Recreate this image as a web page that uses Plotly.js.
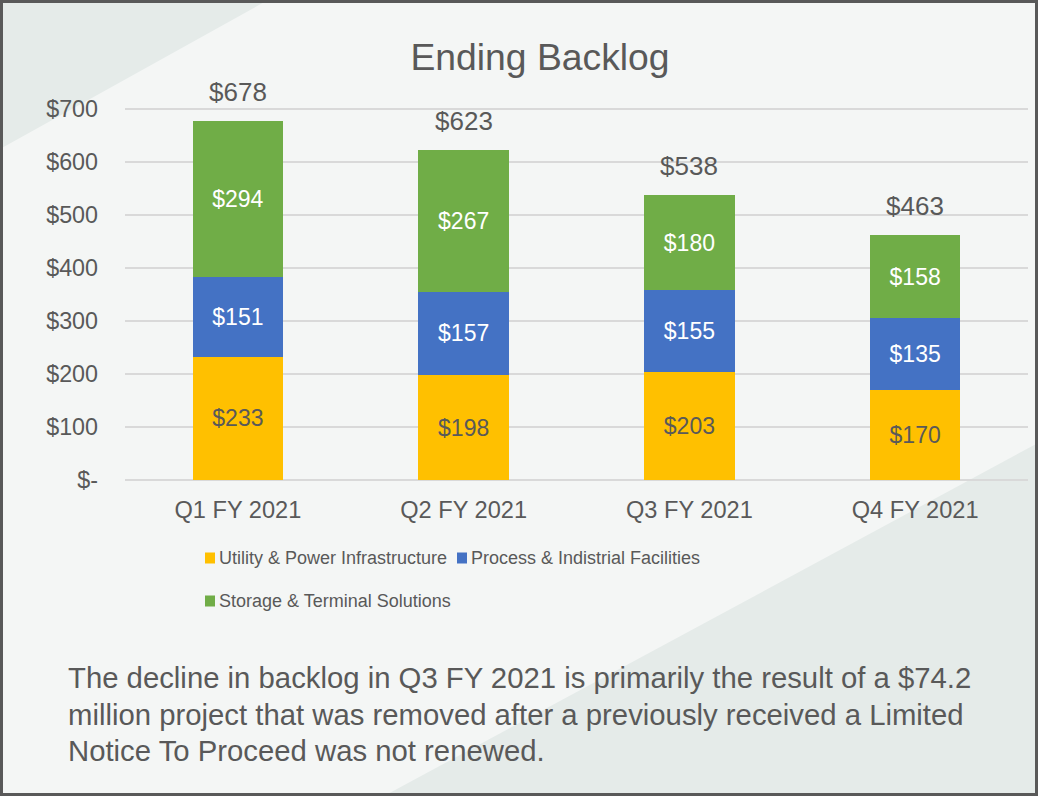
<!DOCTYPE html>
<html>
<head>
<meta charset="utf-8">
<script src="https://cdn.plot.ly/plotly-3.0.1.min.js"></script>
<style>html,body{margin:0;padding:0;background:#F4F6F5;}#chart{width:1038px;height:796px;}</style>
</head>
<body>
<div id="chart"></div>
<script>
// ---- data ----
const categories = ['Q1 FY 2021', 'Q2 FY 2021', 'Q3 FY 2021', 'Q4 FY 2021'];
const utilityPower = [233, 198, 203, 170];
const processIndustrial = [151, 157, 155, 135];
const storageTerminal = [294, 267, 180, 158];
const totals = [678, 623, 538, 463];
const seriesNames = ['Utility & Power Infrastructure', 'Process & Indistrial Facilities', 'Storage & Terminal Solutions'];
const yTickVals = [0, 100, 200, 300, 400, 500, 600, 700];
const yTickText = ['$-', '$100', '$200', '$300', '$400', '$500', '$600', '$700'];
const chartTitle = 'Ending Backlog';
const noteLines = [
  'The decline in backlog in Q3 FY 2021 is primarily the result of a $74.2',
  'million project that was removed after a previously received a Limited',
  'Notice To Proceed was not renewed.'
];

// ---- styles ----
const W = 1038, H = 796;
const M = {l: 125, r: 10, t: 108, b: 316};
const plotW = W - M.l - M.r, plotH = H - M.t - M.b;
const px2x = p => (p - M.l) / plotW;
const py2y = p => (H - M.b - p) / plotH;
const FONT = 'Liberation Sans, Arial, sans-serif';
const GREY = '#595959';
const colors = ['#FFC000', '#4472C4', '#70AD47'];
const labelColors = [GREY, '#FFFFFF', '#FFFFFF'];
const seriesVals = [utilityPower, processIndustrial, storageTerminal];

const traces = seriesVals.map((vals, i) => ({
  type: 'bar',
  name: seriesNames[i],
  x: categories,
  y: vals,
  marker: {color: colors[i], line: {width: 0}},
  width: 0.4,
  texttemplate: '$%{y}',
  textposition: 'inside',
  insidetextanchor: 'middle',
  textangle: 0,
  constraintext: 'none',
  textfont: {family: FONT, size: 23, color: labelColors[i]},
  hoverinfo: 'skip',
  showlegend: false
}));

const annotations = [];
categories.forEach((c, i) => {
  annotations.push({
    x: c, y: totals[i], xref: 'x', yref: 'y',
    text: '$' + totals[i], showarrow: false,
    yanchor: 'bottom', yshift: 12,
    font: {family: FONT, size: 26, color: GREY}
  });
});

// manual legend
const legendPos = [
  {sx: 205, sy: 558},
  {sx: 457, sy: 558},
  {sx: 205, sy: 601}
];
const shapes = [];
// background triangles
shapes.push({
  type: 'path', xref: 'paper', yref: 'paper', layer: 'below',
  path: `M ${px2x(0)},${py2y(0)} L ${px2x(268)},${py2y(0)} L ${px2x(0)},${py2y(149)} Z`,
  fillcolor: '#E5EBE9', line: {width: 0}
});
shapes.push({
  type: 'path', xref: 'paper', yref: 'paper', layer: 'below',
  path: `M ${px2x(1038)},${py2y(443)} L ${px2x(1038)},${py2y(796)} L ${px2x(384)},${py2y(796)} Z`,
  fillcolor: '#E5EBE9', line: {width: 0}
});
legendPos.forEach((p, i) => {
  shapes.push({
    type: 'rect', xref: 'paper', yref: 'paper',
    x0: px2x(p.sx), x1: px2x(p.sx + 10),
    y0: py2y(p.sy - 5.5), y1: py2y(p.sy + 5.5),
    fillcolor: colors[i], line: {width: 0}
  });
  annotations.push({
    xref: 'paper', yref: 'paper',
    x: px2x(p.sx + 12), y: py2y(p.sy),
    xanchor: 'left', yanchor: 'middle',
    text: seriesNames[i], showarrow: false,
    font: {family: FONT, size: 18, color: GREY}
  });
});
// frame
shapes.push({
  type: 'rect', xref: 'paper', yref: 'paper',
  x0: px2x(1.5), x1: px2x(1036.5), y0: py2y(1.5), y1: py2y(794.5),
  line: {color: GREY, width: 3}, fillcolor: 'rgba(0,0,0,0)'
});
// note lines
const noteY = [677, 714, 750];
noteLines.forEach((t, i) => {
  annotations.push({
    xref: 'paper', yref: 'paper',
    x: px2x(66), y: py2y(noteY[i]),
    xanchor: 'left', yanchor: 'middle',
    text: t, showarrow: false,
    font: {family: FONT, size: 29.3, color: GREY}
  });
});

const layout = {
  width: W, height: H,
  margin: M,
  paper_bgcolor: '#F4F6F5',
  plot_bgcolor: 'rgba(0,0,0,0)',
  barmode: 'stack',
  showlegend: false,
  font: {family: FONT, color: GREY},
  title: {
    text: chartTitle, xref: 'container', yref: 'container',
    x: 540 / W, y: 1 - 57 / H, xanchor: 'center', yanchor: 'middle',
    font: {family: FONT, size: 37.3, color: GREY}
  },
  xaxis: {
    type: 'category',
    tickfont: {family: FONT, size: 23.6, color: GREY},
    showgrid: false, showline: false, zeroline: false, ticks: '',
    ticklabelstandoff: 13, fixedrange: true
  },
  yaxis: {
    range: [0, 702],
    tickvals: yTickVals, ticktext: yTickText,
    tickfont: {family: FONT, size: 23.3, color: GREY},
    showgrid: true, gridcolor: '#D9D9D9', gridwidth: 1.5,
    zeroline: true, zerolinecolor: '#D9D9D9', zerolinewidth: 1.5,
    showline: false, ticks: '', ticklabelstandoff: 26, fixedrange: true
  },
  shapes: shapes,
  annotations: annotations
};

Plotly.newPlot('chart', traces, layout, {displayModeBar: false, staticPlot: true});
</script>
</body>
</html>
